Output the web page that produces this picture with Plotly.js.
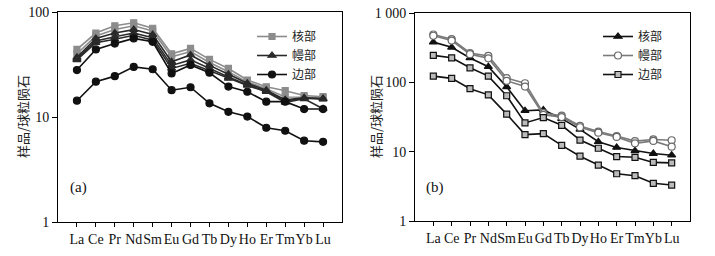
<!DOCTYPE html>
<html>
<head>
<meta charset="utf-8">
<script src="https://cdn.plot.ly/plotly-3.0.1.min.js"></script>
<style>
  html, body { margin: 0; padding: 0; background: #fff; }
  #chart { width: 715px; height: 256px; }
</style>
</head>
<body>
<div id="chart"></div>
<script>
// Categories (REE)
const ree = ['La','Ce','Pr','Nd','Sm','Eu','Gd','Tb','Dy','Ho','Er','Tm','Yb','Lu'];

// Panel (a) — chondrite-normalised values
const aCore1   = [44, 63, 74, 79, 70, 40, 45, 35.4, 29, 22.5, 19.4, 17.8, 16, 15.6];
const aCore2   = [40, 59, 68, 74, 66, 37.5, 42, 33, 27, 21.5, 18.6, 15.5, 15.4, 15.2];
const aMantle1 = [37, 56, 63, 68, 61, 33.6, 39, 31, 25.5, 21, 18, 14.6, 15.2, 15];
const aMantle2 = [36, 53, 58, 63, 57, 31, 35, 29, 24, 20.3, 17.6, 14.2, 15.1, 14.8];
const aMantle3 = [35, 51, 55, 60, 54, 29, 32.5, 27.5, 23.3, 20, 17.4, 13.8, 14.9, 12];
const aRim1    = [28, 44, 50, 56, 52, 26, 31.3, 26.4, 19.5, 17.4, 14, 14, 11.9, 11.9];
const aRim2    = [14.3, 21.7, 24.5, 30, 28.5, 18, 19.2, 13.5, 11.2, 10.1, 7.9, 7.4, 5.95, 5.8];

// Panel (b)
const bCore1   = [380, 320, 225, 168, 86, 39, 40, 30, 21, 13.9, 11.5, 10.3, 9.4, 8.9];
const bMantle1 = [490, 420, 265, 240, 115, 97, 36, 33, 23.5, 19.5, 16.8, 14.2, 15, 14.6];
const bMantle2 = [470, 400, 255, 222, 105, 87, 34, 31.5, 22.5, 18.8, 16.3, 13.2, 14.3, 11.8];
const bRim1    = [245, 226, 162, 123, 64, 26, 31, 24, 14.7, 11.2, 8.5, 8.3, 7.0, 6.9];
const bRim2    = [123, 114, 81, 66, 34.8, 17.6, 18.2, 12.3, 8.6, 6.4, 4.8, 4.5, 3.5, 3.3];

// Tick labels
const aTickVals = [1, 10, 100];
const aTickText = ['1', '10', '100'];
const bTickVals = [1, 10, 100, 1000];
const bTickText = ['1', '10', '100', '1 000'];

const labelCore = '核部', labelMantle = '幔部', labelRim = '边部';
const yTitle = '样品/球粒陨石';

const GRAY = '#8c8c8c', DARK = '#2a2a2a', BLACK = '#111111';
const serif = '"Liberation Serif", "Times New Roman", serif';
const cjk = '"Noto Sans CJK SC", sans-serif';

function tr(y, name, xa, ya, legend, show, color, symbol, msize, mfill, mline) {
  return {
    x: ree, y: y, name: name, type: 'scatter', mode: 'lines+markers',
    xaxis: xa, yaxis: ya, legend: legend, showlegend: show, legendgroup: legend + name,
    line: {color: color, width: 1.6},
    marker: {symbol: symbol, size: msize, color: mfill || color,
             line: {color: mline || color, width: 1.2}}
  };
}

const data = [
  tr(aCore1, labelCore, 'x', 'y', 'legend', true, GRAY, 'square', 6),
  tr(aCore2, labelCore, 'x', 'y', 'legend', false, GRAY, 'square', 6),
  tr(aMantle1, labelMantle, 'x', 'y', 'legend', true, DARK, 'triangle-up', 7),
  tr(aMantle2, labelMantle, 'x', 'y', 'legend', false, DARK, 'triangle-up', 7),
  tr(aMantle3, labelMantle, 'x', 'y', 'legend', false, DARK, 'triangle-up', 7),
  tr(aRim1, labelRim, 'x', 'y', 'legend', true, BLACK, 'circle', 7),
  tr(aRim2, labelRim, 'x', 'y', 'legend', false, BLACK, 'circle', 7),

  tr(bCore1, labelCore, 'x2', 'y2', 'legend2', true, BLACK, 'triangle-up', 7),
  tr(bMantle1, labelMantle, 'x2', 'y2', 'legend2', true, '#7a7a7a', 'circle', 7, '#ffffff', '#6a6a6a'),
  tr(bMantle2, labelMantle, 'x2', 'y2', 'legend2', false, '#7a7a7a', 'circle', 7, '#ffffff', '#6a6a6a'),
  tr(bRim1, labelRim, 'x2', 'y2', 'legend2', true, BLACK, 'square', 6, '#bbbbbb', BLACK),
  tr(bRim2, labelRim, 'x2', 'y2', 'legend2', false, BLACK, 'square', 6, '#bbbbbb', BLACK),
];

const xCommon = {
  type: 'category', range: [-1, 14], showgrid: false, zeroline: false,
  showline: true, linecolor: '#000', linewidth: 1, mirror: true,
  ticks: 'outside', ticklen: 4, tickcolor: '#000', tickangle: 0,
  tickfont: {family: serif, size: 14, color: '#111'}, fixedrange: true
};
const yCommon = {
  type: 'log', showgrid: false, zeroline: false,
  showline: true, linecolor: '#000', linewidth: 1, mirror: true,
  ticks: 'outside', ticklen: 5, tickcolor: '#000',
  tickfont: {family: serif, size: 14, color: '#111'}, fixedrange: true
};

const layout = {
  width: 715, height: 256,
  margin: {l: 0, r: 0, t: 0, b: 0},
  paper_bgcolor: '#fff', plot_bgcolor: '#fff',
  showlegend: true,
  xaxis: Object.assign({}, xCommon, {domain: [58/715, 342/715], anchor: 'y'}),
  yaxis: Object.assign({}, yCommon, {domain: [34/256, 244/256], anchor: 'x',
           range: [0, 2], tickvals: aTickVals, ticktext: aTickText}),
  xaxis2: Object.assign({}, xCommon, {domain: [415/715, 690/715], anchor: 'y2'}),
  yaxis2: Object.assign({}, yCommon, {domain: [35/256, 243/256], anchor: 'x2',
           range: [0, 3], tickvals: bTickVals, ticktext: bTickText}),
  legend: {x: 252/715, y: 1 - 22/256, xanchor: 'left', yanchor: 'top',
           bgcolor: 'rgba(0,0,0,0)', itemwidth: 30, tracegroupgap: 0,
           font: {family: cjk, size: 12, color: '#222'}},
  legend2: {x: 598/715, y: 1 - 22/256, xanchor: 'left', yanchor: 'top',
           bgcolor: 'rgba(0,0,0,0)', itemwidth: 30, tracegroupgap: 0,
           font: {family: cjk, size: 12, color: '#222'}},
  annotations: [
    {text: yTitle, xref: 'paper', yref: 'paper', x: 22/715, y: 1 - 117/256,
     xanchor: 'center', yanchor: 'middle', textangle: -90, showarrow: false,
     font: {family: cjk, size: 13, color: '#222'}},
    {text: yTitle, xref: 'paper', yref: 'paper', x: 375/715, y: 1 - 117/256,
     xanchor: 'center', yanchor: 'middle', textangle: -90, showarrow: false,
     font: {family: cjk, size: 13, color: '#222'}},
    {text: '(a)', xref: 'paper', yref: 'paper', x: 68/715, y: 1 - 187/256,
     xanchor: 'left', yanchor: 'middle', showarrow: false,
     font: {family: serif, size: 15, color: '#111'}},
    {text: '(b)', xref: 'paper', yref: 'paper', x: 424/715, y: 1 - 187/256,
     xanchor: 'left', yanchor: 'middle', showarrow: false,
     font: {family: serif, size: 15, color: '#111'}}
  ]
};

Plotly.newPlot('chart', data, layout, {staticPlot: true, displayModeBar: false});
</script>
</body>
</html>
